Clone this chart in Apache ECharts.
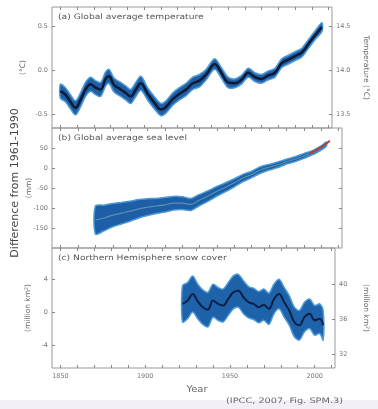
<!DOCTYPE html>
<html>
<head>
<meta charset="utf-8">
<script src="https://cdn.jsdelivr.net/npm/echarts@6/dist/echarts.min.js"></script>
<style>
  html, body { margin: 0; padding: 0; background: #fff; }
  #main { width: 378px; height: 409px; }
</style>
</head>
<body>
<div id="main"></div>
<script>
// (a) global average temperature, anomaly vs 1961-1990 (°C)
var tempYears = [1850, 1853, 1856, 1859, 1862, 1865, 1868, 1871, 1874, 1877, 1879, 1882, 1886, 1889, 1892, 1895, 1898, 1902, 1906, 1910, 1913, 1917, 1921, 1925, 1929, 1933, 1937, 1942, 1946, 1950, 1954, 1958, 1962, 1966, 1970, 1974, 1978, 1982, 1986, 1990, 1994, 1998, 2002, 2006];
var tempValues = [-0.24, -0.28, -0.36, -0.43, -0.34, -0.22, -0.16, -0.2, -0.22, -0.1, -0.07, -0.17, -0.22, -0.26, -0.3, -0.22, -0.15, -0.27, -0.37, -0.45, -0.42, -0.33, -0.27, -0.22, -0.15, -0.12, -0.05, 0.07, -0.03, -0.14, -0.15, -0.11, -0.03, -0.08, -0.1, -0.06, -0.03, 0.08, 0.12, 0.16, 0.2, 0.3, 0.4, 0.49];
var tempSpread = [0.08, 0.08, 0.08, 0.08, 0.08, 0.08, 0.08, 0.08, 0.08, 0.08, 0.08, 0.08, 0.08, 0.08, 0.08, 0.08, 0.08, 0.07, 0.07, 0.07, 0.07, 0.07, 0.07, 0.07, 0.07, 0.07, 0.06, 0.06, 0.06, 0.06, 0.05, 0.05, 0.05, 0.05, 0.05, 0.05, 0.05, 0.05, 0.05, 0.05, 0.05, 0.05, 0.05, 0.05];

// (b) global average sea level (mm)
var seaYears = [1870, 1875, 1880, 1885, 1890, 1895, 1900, 1905, 1910, 1915, 1920, 1925, 1930, 1935, 1940, 1945, 1950, 1955, 1960, 1965, 1970, 1975, 1980, 1985, 1990, 1995, 2000, 2003];
var seaValues = [-130, -125, -118, -113, -108, -102, -98, -95, -92, -88, -88, -91, -80, -70, -58, -48, -37, -25, -16, -5, 2, 8, 16, 22, 30, 38, 50, 60];
var seaSpread = [35, 32, 29, 27, 25, 23, 21, 19, 18, 17, 16, 15, 14, 13, 12, 11, 10, 9, 8, 8, 7, 7, 6, 6, 6, 5, 5, 5];
var satYears = [1993, 1996, 1999, 2002, 2005];
var satValues = [36, 42, 50, 58, 68];

// (c) northern hemisphere snow cover, anomaly (million km²)
var snowYears = [1922, 1925, 1928, 1931, 1934, 1937, 1940, 1943, 1946, 1949, 1952, 1955, 1958, 1961, 1964, 1967, 1970, 1973, 1976, 1979, 1982, 1985, 1988, 1991, 1994, 1997, 2000, 2003, 2005];
var snowValues = [1.0, 1.4, 2.2, 1.3, 0.6, 0.3, 1.4, 1.0, 0.8, 1.6, 2.4, 2.6, 1.8, 1.2, 1.0, 0.6, 0.9, 0.4, 1.6, 2.2, 1.2, 0.2, -1.2, -1.6, -0.6, -0.2, -1.0, -0.8, -1.6];
var snowSpread = [2.2, 2.2, 2.2, 2.1, 2.1, 2.1, 2.0, 2.0, 2.0, 2.0, 2.0, 2.0, 2.0, 1.9, 1.9, 1.9, 1.9, 1.9, 1.8, 1.8, 1.8, 1.8, 1.8, 1.8, 1.8, 1.8, 1.8, 1.8, 1.8];

var xLabelYears = [1850, 1900, 1950, 2000];
var xTickYears = [1850, 1860, 1870, 1880, 1890, 1900, 1910, 1920, 1930, 1940, 1950, 1960, 1970, 1980, 1990, 2000, 2010];

var chart = echarts.init(document.getElementById('main'));

function pairs(xs, ys) {
    return xs.map(function (x, i) { return [x, ys[i]]; });
}

var FONT = 'DejaVu Sans';
var labelFont = { fontSize: 6.5, color: '#777', fontFamily: FONT };
var nameFont = { fontSize: 7.5, color: '#666', fontFamily: FONT };

function xAxisFor(grid, pos, showLabel) {
    return {
        type: 'value', gridIndex: grid, position: pos, min: 1845, max: 2012,
        axisLine: { show: false, onZero: false }, splitLine: { show: false },
        axisTick: { inside: true, length: 3, customValues: xTickYears, lineStyle: { color: '#888' } },
        axisLabel: showLabel ? Object.assign({ customValues: xLabelYears, margin: 5, formatter: function (v) { return String(v); } }, labelFont) : { show: false }
    };
}

function yAxisFor(grid, pos, min, max, ticks, fmt, name, gap, rotate) {
    return {
        type: 'value', gridIndex: grid, position: pos, min: min, max: max,
        axisLine: { show: false, onZero: false }, splitLine: { show: false },
        axisTick: { inside: true, length: 3, customValues: ticks, lineStyle: { color: '#888' } },
        axisLabel: fmt ? Object.assign({ customValues: ticks, margin: 4, formatter: fmt }, labelFont) : { show: false },
        name: name, nameLocation: 'middle', nameGap: gap, nameRotate: rotate,
        nameMoveOverlap: false,
        nameTextStyle: nameFont
    };
}

// uncertainty band as one polygon, points placed through the axes
function bandSeries(xi, yi, xs, ys, sp, bandColor, edgeColor, lineColor, lineWidth) {
    return [
        {
            type: 'custom', xAxisIndex: xi, yAxisIndex: yi, silent: true,
            data: [[xs[0], ys[0]]],
            renderItem: function (params, api) {
                var pts = [];
                for (var i = 0; i < xs.length; i++) pts.push(api.coord([xs[i], ys[i] + sp[i]]));
                for (var j = xs.length - 1; j >= 0; j--) pts.push(api.coord([xs[j], ys[j] - sp[j]]));
                return {
                    type: 'polygon',
                    shape: { points: pts, smooth: 0.3 },
                    style: { fill: bandColor, stroke: edgeColor, lineWidth: 1.5 }
                };
            }
        },
        {
            type: 'line', xAxisIndex: xi, yAxisIndex: yi, data: pairs(xs, ys),
            smooth: 0.4, symbol: 'none', lineStyle: { color: lineColor, width: lineWidth }
        }
    ];
}

function label(text, x, y, size, sx, align, color) {
    return {
        type: 'text', x: x, y: y, scaleX: sx, silent: true,
        style: { text: text, fontSize: size, fill: color || '#555', fontFamily: FONT, align: align || 'left', verticalAlign: 'middle' }
    };
}

var option = {
    animation: false,
    backgroundColor: '#fff',
    grid: [
        { left: 52, right: 36, top: 7, height: 121, show: true, borderColor: '#999', borderWidth: 1 },
        { left: 52, right: 36, top: 128, height: 120, show: true, borderColor: '#999', borderWidth: 1 },
        { left: 52, right: 36, top: 248, height: 120, show: true, borderColor: '#999', borderWidth: 1 }
    ],
    xAxis: [
        xAxisFor(0, 'bottom', false), xAxisFor(0, 'top', false),
        xAxisFor(1, 'bottom', false), xAxisFor(1, 'top', false),
        xAxisFor(2, 'bottom', true), xAxisFor(2, 'top', false)
    ],
    yAxis: [
        yAxisFor(0, 'left', -0.66, 0.72, [-0.5, 0, 0.5], function (v) { return v.toFixed(1); }, '(°C)', 25, 90),
        yAxisFor(0, 'right', 13.34, 14.72, [13.5, 14, 14.5], function (v) { return v.toFixed(1); }, 'Temperature (°C)', 30, -90),
        yAxisFor(1, 'left', -200, 100, [-150, -100, -50, 0, 50], function (v) { return v; }, '(mm)', 19, 90),
        yAxisFor(1, 'right', -200, 100, [-150, -100, -50, 0, 50], null, '', 0, 0),
        yAxisFor(2, 'left', -6.8, 7.8, [-4, 0, 4], function (v) { return v; }, '(million km²)', 20, 90),
        yAxisFor(2, 'right', 30.4, 44.1, [32, 36, 40], function (v) { return v; }, '(million km²)', 27, -90)
    ],
    series: [].concat(
        bandSeries(0, 0, tempYears, tempValues, tempSpread, '#1f5fa3', '#4d9bd8', '#0c1a38', 2.5),
        bandSeries(2, 2, seaYears, seaValues, seaSpread, '#1c5fa6', '#4a98d4', '#5a8fae', 1.2),
        [{
            type: 'line', xAxisIndex: 2, yAxisIndex: 2, data: pairs(satYears, satValues),
            smooth: 0.4, symbol: 'none', lineStyle: { color: '#a8403f', width: 2 }
        }],
        bandSeries(4, 4, snowYears, snowValues, snowSpread, '#1e62aa', '#4d9bd8', '#0d1f45', 2)
    ),
    graphic: [
        { type: 'rect', left: 0, top: 400, shape: { width: 378, height: 9 }, style: { fill: '#f4eef6' }, silent: true },
        label('(a) Global average temperature', 58, 17, 7.5, 1.22),
        label('(b) Global average sea level', 58, 138, 7.5, 1.22),
        label('(c) Northern Hemisphere snow cover', 58, 258, 7.5, 1.22),
        label('Year', 197, 390, 8, 1.25, 'center', '#666'),
        label('(IPCC, 2007, Fig. SPM.3)', 343, 401, 7.5, 1.3, 'right', '#666'),
        {
            type: 'text', x: 15, y: 183, rotation: Math.PI / 2, silent: true,
            style: { text: 'Difference from 1961-1990', fontSize: 11, fill: '#444', align: 'center', verticalAlign: 'middle', fontFamily: FONT }
        }
    ]
};

chart.setOption(option);
</script>
</body>
</html>
